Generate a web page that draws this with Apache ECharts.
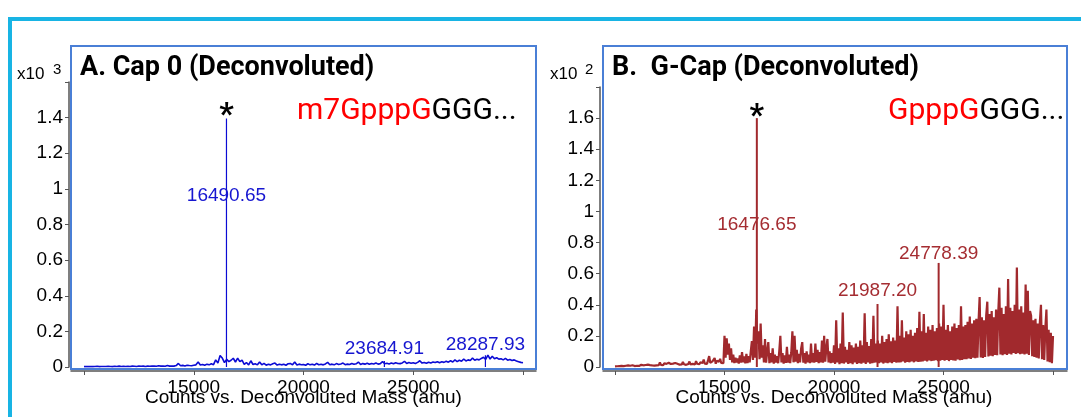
<!DOCTYPE html>
<html><head><meta charset="utf-8">
<script src="https://cdn.jsdelivr.net/npm/echarts@6/dist/echarts.min.js"></script>
<style>html,body{margin:0;padding:0;background:#fff;}#c{width:1081px;height:417px;}</style>
</head><body><div id="c"></div>
<script>
// ---------- DATA ----------
const massStart = 10000;
const cap0Step = 100;   // amu between points, panel A
const gcapStep = 50;    // amu between points, panel B

// Panel A, counts x10^3, 10000..30000 amu
const cap0Noise = [
  0.002,0.003,0.002,0.003,0.002,0.003,0.004,0.002,0.003,0.003,
  0.003,0.004,0.003,0.002,0.004,0.003,0.005,0.003,0.004,0.003,
  0.004,0.003,0.005,0.004,0.003,0.006,0.004,0.005,0.003,0.005,
  0.004,0.006,0.005,0.004,0.007,0.005,0.006,0.004,0.008,0.005,
  0.006,0.005,0.008,0.020,0.007,0.009,0.006,0.010,0.008,0.007,
  0.010,0.012,0.028,0.011,0.014,0.010,0.016,0.012,0.018,0.013,
  0.040,0.022,0.064,0.050,0.025,0.043,0.030,0.038,0.049,0.028,
  0.050,0.030,0.038,0.015,0.025,0.012,0.035,0.014,0.018,0.012,
  0.028,0.012,0.020,0.010,0.015,0.012,0.018,0.022,0.011,0.016,
  0.012,0.015,0.010,0.018,0.020,0.012,0.028,0.011,0.016,0.013,
  0.014,0.010,0.018,0.012,0.016,0.011,0.020,0.013,0.015,0.012,
  0.017,0.026,0.013,0.016,0.012,0.019,0.014,0.017,0.022,0.013,
  0.016,0.014,0.020,0.015,0.018,0.028,0.014,0.019,0.016,0.021,
  0.015,0.020,0.017,0.022,0.016,0.019,0.030,0.018,0.021,0.017,
  0.022,0.018,0.024,0.020,0.019,0.023,0.032,0.020,0.025,0.021,
  0.024,0.020,0.026,0.035,0.022,0.025,0.021,0.027,0.023,0.028,
  0.025,0.030,0.024,0.029,0.026,0.032,0.027,0.035,0.028,0.040,
  0.030,0.038,0.032,0.045,0.034,0.040,0.036,0.050,0.038,0.044,
  0.040,0.048,0.055,0.042,0.067,0.045,0.060,0.046,0.052,0.044,
  0.046,0.040,0.048,0.038,0.042,0.036,0.040,0.034,0.030,0.026,
  0.024
];

// Panel B, counts x10^2, 10000..30000 amu
const gcapNoise = [
  0.004,0.006,0.005,0.008,0.006,0.004,0.007,0.009,0.006,0.005,0.008,0.007,0.010,0.006,0.008,0.007,0.011,0.008,0.006,0.009,
  0.008,0.012,0.007,0.010,0.014,0.009,0.011,0.008,0.013,0.010,0.015,0.009,0.012,0.017,0.010,0.013,0.009,0.016,0.011,0.014,
  0.012,0.030,0.014,0.018,0.011,0.024,0.015,0.020,0.013,0.027,0.016,0.019,0.012,0.022,0.017,0.026,0.014,0.021,0.018,0.015,
  0.020,0.016,0.032,0.018,0.025,0.014,0.022,0.019,0.035,0.017,0.024,0.020,0.028,0.016,0.038,0.021,0.026,0.018,0.031,0.023,
  0.025,0.048,0.022,0.030,0.019,0.044,0.070,0.027,0.024,0.036,0.028,0.058,0.021,0.040,0.030,0.034,0.052,0.026,0.038,0.024,
  0.200,0.060,0.185,0.080,0.150,0.045,0.120,0.030,0.080,0.025,0.060,0.030,0.055,0.022,0.075,0.028,0.095,0.030,0.068,0.024,
  0.085,0.025,0.070,0.030,0.100,0.167,0.045,0.260,0.060,0.370,0.150,0.230,0.050,0.280,0.060,0.140,0.030,0.180,0.028,0.100,
  0.160,0.025,0.090,0.030,0.120,0.022,0.080,0.028,0.070,0.024,0.100,0.200,0.030,0.090,0.022,0.075,0.026,0.130,0.028,0.080,
  0.025,0.095,0.230,0.030,0.200,0.035,0.110,0.025,0.085,0.030,0.120,0.160,0.028,0.090,0.022,0.100,0.030,0.080,0.025,0.150,
  0.030,0.090,0.028,0.150,0.032,0.110,0.025,0.095,0.030,0.170,0.028,0.200,0.035,0.120,0.180,0.030,0.100,0.025,0.090,0.028,
  0.140,0.020,0.300,0.030,0.120,0.018,0.150,0.025,0.350,0.022,0.130,0.030,0.110,0.020,0.160,0.025,0.140,0.018,0.125,0.030,
  0.150,0.020,0.130,0.025,0.170,0.022,0.140,0.028,0.345,0.020,0.160,0.030,0.135,0.022,0.180,0.025,0.330,0.028,0.150,0.030,
  0.170,0.025,0.150,0.030,0.200,0.022,0.160,0.028,0.180,0.025,0.210,0.030,0.165,0.024,0.190,0.032,0.170,0.028,0.390,0.030,
  0.200,0.030,0.300,0.035,0.190,0.028,0.230,0.032,0.210,0.030,0.240,0.035,0.200,0.030,0.220,0.036,0.250,0.032,0.355,0.034,
  0.230,0.036,0.340,0.040,0.220,0.035,0.260,0.042,0.240,0.038,0.270,0.040,0.230,0.044,0.250,0.038,0.280,0.040,0.260,0.045,
  0.400,0.040,0.240,0.045,0.270,0.038,0.230,0.046,0.260,0.042,0.280,0.040,0.250,0.048,0.270,0.044,0.390,0.046,0.260,0.050,
  0.270,0.050,0.290,0.055,0.325,0.052,0.280,0.060,0.300,0.056,0.310,0.060,0.290,0.450,0.062,0.320,0.058,0.300,0.065,0.330,
  0.420,0.068,0.340,0.072,0.360,0.070,0.320,0.078,0.370,0.075,0.350,0.510,0.080,0.380,0.076,0.340,0.082,0.390,0.078,0.566,
  0.085,0.380,0.080,0.360,0.090,0.400,0.084,0.640,0.088,0.370,0.082,0.390,0.086,0.350,0.080,0.530,0.085,0.490,0.078,0.360,
  0.330,0.070,0.300,0.065,0.310,0.060,0.280,0.055,0.290,0.400,0.050,0.270,0.045,0.250,0.370,0.035,0.240,0.030,0.220,0.025,
  0.200
];

// Labelled peaks
const cap0PeakMasses  = [16490.65, 23684.91, 28287.93];
const cap0PeakHeights = [1.395, 0.034, 0.066];
const cap0LabelLevels = [0.96, 0.10, 0.124];
const cap0StarLevel   = 1.41;

const gcapPeakMasses  = [16476.65, 21987.20, 24778.39];
const gcapPeakHeights = [1.60, 0.405, 0.669];
const gcapLabelLevels = [0.913, 0.489, 0.727];
const gcapStarLevel   = 1.61;

const xTickLabels = ['15000', '20000', '25000'];
const cap0YTickLabels = ['0','0.2','0.4','0.6','0.8','1','1.2','1.4'];
const gcapYTickLabels = ['0','0.2','0.4','0.6','0.8','1','1.2','1.4','1.6'];

const titles = ['A. Cap 0 (Deconvoluted)', 'B.  G-Cap (Deconvoluted)'];
const seqRed = ['m7GpppG', 'GpppG'];
const seqBlack = ['GGG...', 'GGG...'];
const scaleExp = ['3', '2'];
const xName = 'Counts vs. Deconvoluted Mass (amu)';

// ---------- CHART ----------
const BLUE = '#0b0bd4', BLUE_T = '#1616d0';
const RED = '#a1292d', RED_T = '#a52d32';
const SANS = '"Liberation Sans", Arial, sans-serif';

const toXY = (arr, step) => arr.map((v, i) => [massStart + i * step, v]);
const peaksXY = (m, h) => m.map((x, i) => [x, h[i]]);
const labelsXY = (m, lv) => m.map((x, i) => [x, lv[i], x.toFixed(2)]);

function boxX(gi) {
  return { gridIndex: gi, type: 'value', min: 0, max: 1,
    axisLine: { show: true, onZero: false, lineStyle: { color: '#555', width: 1.5 } },
    offset: 2, axisTick: { show: false }, axisLabel: { show: false }, splitLine: { show: false } };
}
function boxY(gi) { return { gridIndex: gi, type: 'value', show: false, min: 0, max: 1 }; }
function dataX(gi) {
  return { gridIndex: gi, type: 'value', min: 10000, max: 30000, interval: 5000, offset: 4,
    axisLine: { show: false, onZero: false },
    axisTick: { show: true, length: 4, lineStyle: { color: '#555' } },
    splitLine: { show: false },
    axisLabel: { margin: 7, color: '#000', fontSize: 19, fontFamily: SANS,
      formatter: v => xTickLabels.includes(String(v)) ? String(v) : '' },
    name: xName, nameLocation: 'middle', nameGap: 17, nameMoveOverlap: false,
    nameTextStyle: { color: '#000', fontSize: 19, fontFamily: SANS } };
}
function dataY(gi, max, labels) {
  return { gridIndex: gi, type: 'value', min: 0, max: max, interval: 0.2, offset: 15,
    axisLine: { show: true, onZero: false, lineStyle: { color: '#555', width: 1.5 } },
    axisTick: { show: true, length: 4, lineStyle: { color: '#555' } },
    splitLine: { show: false },
    axisLabel: { margin: 6, color: '#000', fontSize: 19, fontFamily: SANS,
      formatter: v => { const s = String(Math.round(v * 10) / 10); return labels.includes(s) ? s : ''; } } };
}

const gridBoxStyle = { show: true, borderColor: '#4a7fd6', borderWidth: 2, backgroundColor: 'transparent', outerBoundsMode: 'none', containLabel: false };
const gridData = { show: false, outerBoundsMode: 'none', containLabel: false };

const labelSeries = (xi, data, color, size, weight, family, fmt) => ({
  type: 'scatter', xAxisIndex: xi, yAxisIndex: xi, data: data, symbolSize: 0, silent: true, z: 5,
  itemStyle: { opacity: 1 },
  label: { show: true, position: 'inside', formatter: fmt, color: color, opacity: 1,
    fontSize: size, fontWeight: weight, fontFamily: family }
});

const option = {
  animation: false,
  grid: [
    Object.assign({ left: 71, top: 46, width: 465, height: 323 }, gridBoxStyle),
    Object.assign({ left: 84, top: 82, width: 439, height: 285 }, gridData),
    Object.assign({ left: 603, top: 46, width: 464, height: 323 }, gridBoxStyle),
    Object.assign({ left: 615, top: 87, width: 438, height: 280 }, gridData)
  ],
  xAxis: [boxX(0), dataX(1), boxX(2), dataX(3)],
  yAxis: [boxY(0), dataY(1, 1.6, cap0YTickLabels), boxY(2), dataY(3, 1.8, gcapYTickLabels)],
  series: [
    { type: 'line', xAxisIndex: 1, yAxisIndex: 1, data: toXY(cap0Noise, cap0Step), showSymbol: false,
      lineStyle: { color: BLUE, width: 1.6, join: 'bevel' }, silent: true },
    { type: 'bar', xAxisIndex: 1, yAxisIndex: 1, data: peaksXY(cap0PeakMasses, cap0PeakHeights),
      barWidth: 1.2, itemStyle: { color: BLUE }, silent: true },
    labelSeries(1, labelsXY(cap0PeakMasses, cap0LabelLevels), BLUE_T, 19, 'normal', SANS, p => p.data[2]),
    labelSeries(1, [[cap0PeakMasses[0], cap0StarLevel]], '#000', 32, 'bold', 'Roboto', '*'),

    { type: 'line', xAxisIndex: 3, yAxisIndex: 3, data: toXY(gcapNoise, gcapStep), showSymbol: false,
      lineStyle: { color: RED, width: 2.2, join: 'bevel' }, silent: true },
    { type: 'bar', xAxisIndex: 3, yAxisIndex: 3, data: peaksXY(gcapPeakMasses, gcapPeakHeights),
      barWidth: 2, itemStyle: { color: RED }, silent: true },
    labelSeries(3, labelsXY(gcapPeakMasses, gcapLabelLevels), RED_T, 19, 'normal', SANS, p => p.data[2]),
    labelSeries(3, [[gcapPeakMasses[0], gcapStarLevel]], '#000', 32, 'bold', 'Roboto', '*')
  ],
  graphic: [
    { type: 'rect', shape: { x: 10, y: 19, width: 1200, height: 600 }, style: { fill: 'none', stroke: '#18b4e4', lineWidth: 4 }, silent: true },
    // scale exponents
    { type: 'text', x: 17, y: 74, style: { text: 'x10', font: '17px ' + SANS, fill: '#000', verticalAlign: 'middle', textVerticalAlign: 'middle' } },
    { type: 'text', x: 53, y: 70, style: { text: scaleExp[0], font: '15px ' + SANS, fill: '#000', verticalAlign: 'middle', textVerticalAlign: 'middle' } },
    { type: 'text', x: 550, y: 74, style: { text: 'x10', font: '17px ' + SANS, fill: '#000', verticalAlign: 'middle', textVerticalAlign: 'middle' } },
    { type: 'text', x: 585, y: 70, style: { text: scaleExp[1], font: '15px ' + SANS, fill: '#000', verticalAlign: 'middle', textVerticalAlign: 'middle' } },
    // titles
    { type: 'text', x: 80, y: 68, style: { text: titles[0], font: 'bold 27px Roboto', fill: '#000', verticalAlign: 'middle', textVerticalAlign: 'middle' } },
    { type: 'text', x: 612, y: 68, style: { text: titles[1], font: 'bold 27px Roboto', fill: '#000', verticalAlign: 'middle', textVerticalAlign: 'middle' } },
    // sequences
    { type: 'text', x: 297, y: 111, style: { text: '{r|' + seqRed[0] + '}{k|' + seqBlack[0] + '}', verticalAlign: 'middle', textVerticalAlign: 'middle',
        rich: { r: { fill: '#ff0000', color: '#ff0000', font: '30px Roboto' }, k: { fill: '#000', color: '#000', font: '30px Roboto' } } } },
    { type: 'text', x: 888, y: 111, style: { text: '{r|' + seqRed[1] + '}{k|' + seqBlack[1] + '}', verticalAlign: 'middle', textVerticalAlign: 'middle',
        rich: { r: { fill: '#ff0000', color: '#ff0000', font: '30px Roboto' }, k: { fill: '#000', color: '#000', font: '30px Roboto' } } } }
  ]
};

const chart = echarts.init(document.getElementById('c'), null, { renderer: 'canvas' });
chart.setOption(option);
</script>
</body></html>
